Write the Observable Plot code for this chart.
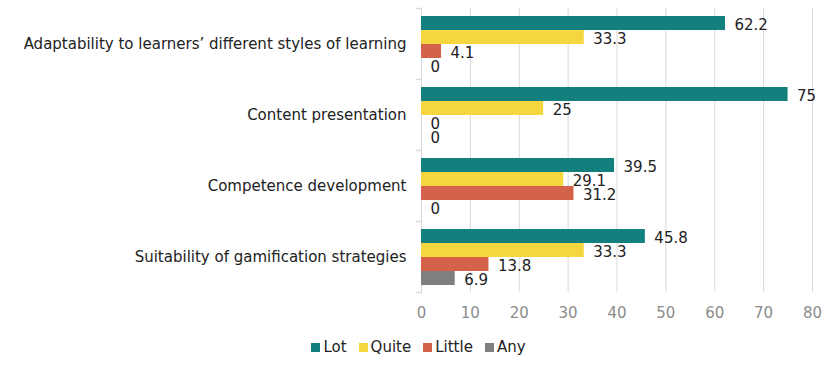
<!DOCTYPE html>
<html>
<head>
<meta charset="utf-8">
<script src="https://cdn.jsdelivr.net/npm/d3@7"></script>
<script src="https://cdn.jsdelivr.net/npm/@observablehq/plot@0.6"></script>
<style>
  body { margin: 0; background: #fff; font-family: "DejaVu Sans", Verdana, sans-serif; }
  #legend { display: flex; justify-content: center; gap: 12px; font-size: 15px; color: #222; line-height: 20px; padding-top: 9px; padding-left: 4px; }
  #legend span.item { display: inline-flex; align-items: center; gap: 3px; }
  #legend span.sw { display: inline-block; width: 9px; height: 9px; }
</style>
</head>
<body>
<div id="chart"></div>
<div id="legend"></div>
<script>
const categories = [
  "Adaptability to learners’ different styles of learning",
  "Content presentation",
  "Competence development",
  "Suitability of gamification strategies"
];
const seriesNames = ["Lot", "Quite", "Little", "Any"];
const lotValues = [62.2, 75, 39.5, 45.8];
const quiteValues = [33.3, 25, 29.1, 33.3];
const littleValues = [4.1, 0, 31.2, 13.8];
const anyValues = [0, 0, 0, 6.9];
const xTicks = [0, 10, 20, 30, 40, 50, 60, 70, 80];
const colors = ["#13807d", "#f5d63f", "#d46149", "#7f7f7f"];

const seriesValues = [lotValues, quiteValues, littleValues, anyValues];
const data = [];
categories.forEach((c, i) => {
  seriesNames.forEach((s, j) => {
    data.push({category: c, series: s, value: seriesValues[j][i]});
  });
});

const tickShape = {
  draw(context, length) {
    context.moveTo(0, 0);
    context.lineTo(0, -length);
  }
};

const chart = Plot.plot({
  width: 833,
  height: 328,
  marginLeft: 421,
  marginRight: 21,
  marginTop: 8,
  marginBottom: 36,
  style: {fontFamily: "DejaVu Sans, Verdana, sans-serif", fontSize: "15px", color: "#222"},
  x: {domain: [0, 80], ticks: xTicks},
  y: {domain: seriesNames, paddingInner: 0, paddingOuter: 0.48, align: 0.56, axis: null},
  fy: {domain: categories, padding: 0},
  color: {domain: seriesNames, range: colors},
  marks: [
    Plot.ruleX(xTicks.filter(d => d > 0), {stroke: "#d9d9d9", strokeWidth: 1, strokeOpacity: 1}),
    Plot.frame({anchor: "left", stroke: "#d9d9d9", strokeOpacity: 1}),
    Plot.vector([null], {frameAnchor: "top-left", length: 5, rotate: -90, anchor: "start", shape: tickShape, stroke: "#d9d9d9"}),
    Plot.vector([null], {frameAnchor: "bottom-left", length: 5, rotate: -90, anchor: "start", shape: tickShape, stroke: "#d9d9d9", fy: [categories[categories.length - 1]]}),
    Plot.barX(data, {x: "value", y: "series", fy: "category", fill: "series"}),
    Plot.text(data, {x: "value", y: "series", fy: "category", text: d => String(d.value), textAnchor: "start", dx: 9, dy: 2, fill: "#222", fontSize: 15}),
    Plot.axisX({ticks: xTicks, tickSize: 0, tickPadding: 15, fill: "#8c8c8c", fontSize: 15, label: null}),
    Plot.axisFy({anchor: "left", tickSize: 0, tickPadding: 15, fontSize: 15, fill: "#222", label: null})
  ]
});
document.getElementById("chart").appendChild(chart);

const legend = document.getElementById("legend");
seriesNames.forEach((s, i) => {
  const item = document.createElement("span");
  item.className = "item";
  const sw = document.createElement("span");
  sw.className = "sw";
  sw.style.background = colors[i];
  item.appendChild(sw);
  item.appendChild(document.createTextNode(s));
  legend.appendChild(item);
});
</script>
</body>
</html>
